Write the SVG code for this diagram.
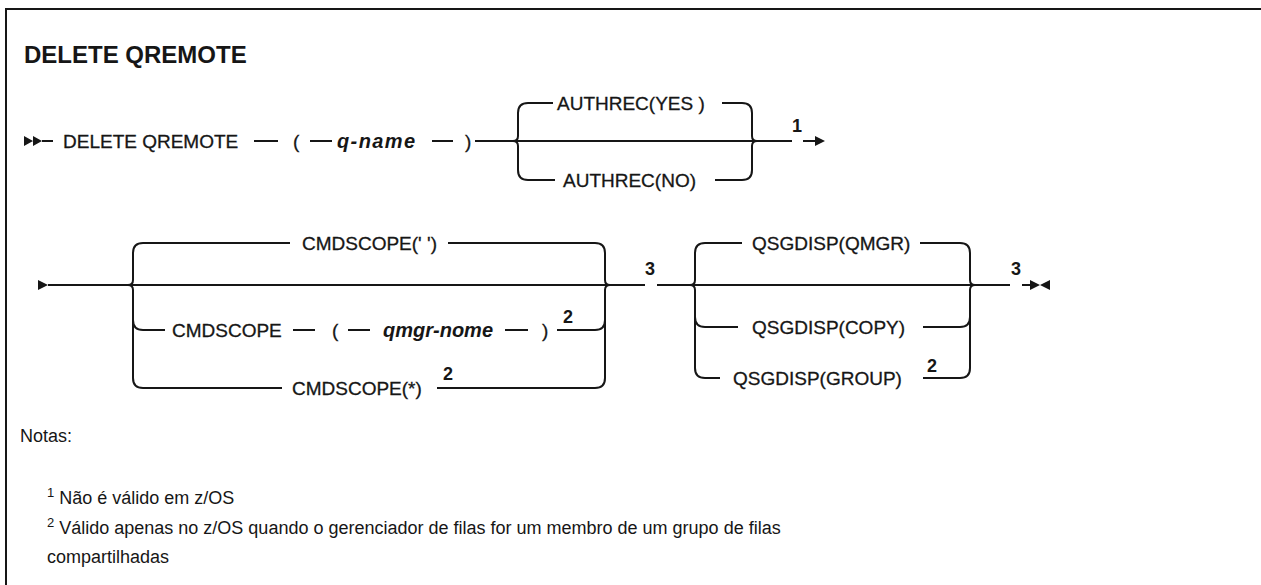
<svg xmlns="http://www.w3.org/2000/svg" width="1261" height="585" viewBox="0 0 1261 585">
<style>
.t{font-family:"Liberation Sans",Arial,sans-serif;font-size:19px;fill:#161616;stroke:#161616;stroke-width:0.3}
.i{font-style:italic;font-weight:bold;font-size:20px;stroke-width:0}
.s{font-family:"Liberation Sans",Arial,sans-serif;font-size:18px;font-weight:bold;fill:#161616}
.h{font-family:"Liberation Sans",Arial,sans-serif;font-size:24px;font-weight:bold;fill:#161616}
.n{font-family:"Liberation Sans",Arial,sans-serif;font-size:18px;fill:#161616}
.l{fill:none;stroke:#161616;stroke-width:2}
.a{fill:#161616}
</style>
<rect x="6" y="9" width="1300" height="620" fill="none" stroke="#161616" stroke-width="2"/>
<text class="h" x="24" y="63">DELETE QREMOTE</text>

<g id="connectors">
  <!-- line 1 -->
  <path class="a" d="M24 136 L33 141 L24 146 Z M33 136 L42 141 L33 146 Z"/>
  <path class="l" d="M42 141 H53 M254 141 H278 M310 141 H332 M432 141 H453 M475 141 H513"/>
  <!-- AUTHREC group -->
  <path class="l" d="M513 141 H757"/>
  <path class="l" d="M528 103 Q518 103 518 113 V136 Q518 141 513 141 Q518 141 518 146 V170 Q518 180 528 180"/>
  <path class="l" d="M742 103 Q752 103 752 113 V136 Q752 141 757 141 Q752 141 752 146 V170 Q752 180 742 180"/>
  <path class="l" d="M528 103 H553 M722 103 H742 M528 180 H555 M715 180 H742"/>
  <path class="l" d="M757 141 H792 M803 141 H815"/>
  <path class="a" d="M815 136 L825 141 L815 146 Z"/>

  <!-- line 2 -->
  <path class="a" d="M38 280 L48 285 L38 290 Z"/>
  <path class="l" d="M48 285 H128"/>
  <!-- CMDSCOPE group -->
  <path class="l" d="M128 285 H610"/>
  <path class="l" d="M143 243 Q133 243 133 253 V280 Q133 285 128 285 Q133 285 133 290 V378 Q133 388 143 388"/>
  <path class="l" d="M133 320 Q133 330 143 330"/>
  <path class="l" d="M595 243 Q605 243 605 253 V280 Q605 285 610 285 Q605 285 605 290 V378 Q605 388 595 388"/>
  <path class="l" d="M605 320 Q605 330 595 330"/>
  <path class="l" d="M143 243 H290 M448 243 H595"/>
  <path class="l" d="M143 330 H165 M293 330 H315 M348 330 H370 M505 330 H528 M557 330 H595"/>
  <path class="l" d="M143 388 H282 M437 388 H595"/>
  <path class="l" d="M610 285 H645 M657 285 H690"/>
  <!-- QSGDISP group -->
  <path class="l" d="M690 285 H975"/>
  <path class="l" d="M705 243 Q695 243 695 253 V280 Q695 285 690 285 Q695 285 695 290 V368 Q695 378 705 378"/>
  <path class="l" d="M695 317 Q695 327 705 327"/>
  <path class="l" d="M960 243 Q970 243 970 253 V280 Q970 285 975 285 Q970 285 970 290 V368 Q970 378 960 378"/>
  <path class="l" d="M970 317 Q970 327 960 327"/>
  <path class="l" d="M705 243 H742 M920 243 H960"/>
  <path class="l" d="M705 327 H738 M923 327 H960"/>
  <path class="l" d="M705 378 H720 M923 378 H960"/>
  <path class="l" d="M975 285 H1010 M1022 285 H1030"/>
  <path class="a" d="M1030 280 L1040 285 L1030 290 Z M1050 280 L1040 285 L1050 290 Z"/>
</g>

<g id="n-delete"><text class="t" x="63" y="148">DELETE QREMOTE</text></g>
<g id="n-lp1"><text class="t" x="293" y="148">(</text></g>
<g id="n-qname"><text class="t i" x="337" y="148" textLength="78">q-name</text></g>
<g id="n-rp1"><text class="t" x="465" y="148">)</text></g>
<g id="n-authyes"><text class="t" x="557" y="110">AUTHREC(YES )</text></g>
<g id="n-authno"><text class="t" x="563" y="187">AUTHREC(NO)</text></g>
<g id="n-fn1"><text class="s" x="792" y="132">1</text></g>

<g id="n-cmdblank"><text class="t" x="302" y="250">CMDSCOPE(' ')</text></g>
<g id="n-cmdscope"><text class="t" x="172" y="337">CMDSCOPE</text></g>
<g id="n-lp2"><text class="t" x="332" y="337">(</text></g>
<g id="n-qmgr"><text class="t i" x="383" y="337">qmgr-nome</text></g>
<g id="n-rp2"><text class="t" x="542" y="337">)</text></g>
<g id="n-fn2a"><text class="s" x="563" y="323">2</text></g>
<g id="n-cmdstar"><text class="t" x="292" y="395">CMDSCOPE(*)</text></g>
<g id="n-fn2b"><text class="s" x="443" y="380">2</text></g>
<g id="n-fn3a"><text class="s" x="645" y="275">3</text></g>

<g id="n-qmgrdisp"><text class="t" x="752" y="250">QSGDISP(QMGR)</text></g>
<g id="n-copy"><text class="t" x="752" y="334">QSGDISP(COPY)</text></g>
<g id="n-group"><text class="t" x="733" y="385">QSGDISP(GROUP)</text></g>
<g id="n-fn2c"><text class="s" x="927" y="372">2</text></g>
<g id="n-fn3b"><text class="s" x="1011" y="275">3</text></g>

<g id="notes">
  <text class="n" x="20" y="442" font-size="19">Notas:</text>
  <text class="n" x="47" y="504"><tspan font-size="13" dy="-7">1</tspan><tspan dy="7"> Não é válido em z/OS</tspan></text>
  <text class="n" x="47" y="534"><tspan font-size="13" dy="-7">2</tspan><tspan dy="7"> Válido apenas no z/OS quando o gerenciador de filas for um membro de um grupo de filas</tspan></text>
  <text class="n" x="47" y="563">compartilhadas</text>
</g>
</svg>
